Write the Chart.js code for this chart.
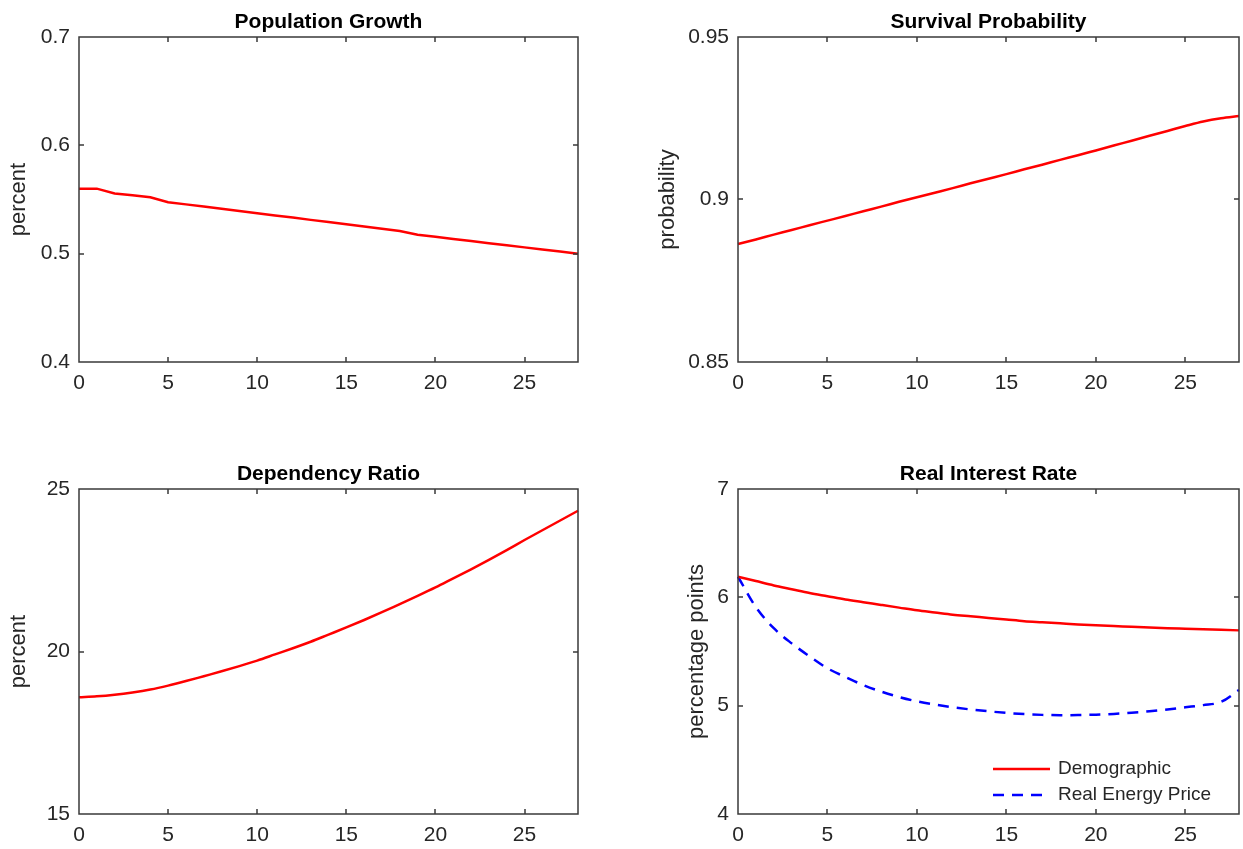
<!DOCTYPE html>
<html>
<head>
<meta charset="utf-8">
<title>Demographic scenario</title>
<script src="https://cdn.jsdelivr.net/npm/chart.js@4.4.1/dist/chart.umd.min.js"></script>
<style>
  html, body { margin: 0; padding: 0; background: #fff; }
  #figure { position: relative; width: 1243px; height: 849px; overflow: hidden; }
  #figure canvas { position: absolute; }
</style>
</head>
<body>
<div id="figure">
  <canvas id="popChart" width="620" height="425" style="left:0;top:0"></canvas>
  <canvas id="survChart" width="623" height="425" style="left:620px;top:0"></canvas>
  <canvas id="depChart" width="620" height="424" style="left:0;top:425px"></canvas>
  <canvas id="rateChart" width="623" height="424" style="left:620px;top:425px"></canvas>
</div>
<script>
// years after the shock
const YEARS = [0, 1, 2, 3, 4, 5, 6, 7, 8, 9, 10, 11, 12, 13, 14, 15, 16, 17, 18, 19, 20, 21, 22, 23, 24, 25, 26, 27, 28];
const X_TICKS = [0, 5, 10, 15, 20, 25];

const POP_GROWTH = [0.560, 0.560, 0.5555, 0.554, 0.552, 0.5475, 0.5455, 0.5435, 0.5414, 0.5394, 0.5373, 0.5353, 0.5333, 0.5312, 0.5292,
  0.5271, 0.5251, 0.5231, 0.5210, 0.5175, 0.5156, 0.5136, 0.5117, 0.5097, 0.5078, 0.5058, 0.5039, 0.5019, 0.5000];
const POP_TICKS = [0.4, 0.5, 0.6, 0.7];

const SURVIVAL = [0.8863, 0.8877, 0.8892, 0.8906, 0.8921, 0.8935, 0.8949, 0.8964, 0.8978, 0.8993, 0.9007, 0.9021, 0.9035, 0.9050, 0.9064,
  0.9078, 0.9093, 0.9107, 0.9122, 0.9136, 0.9151, 0.9166, 0.9181, 0.9196, 0.9211, 0.9226, 0.9240, 0.9250, 0.9257];
const SURV_TICKS = [0.85, 0.9, 0.95];

const DEP_RATIO = [18.59, 18.62, 18.67, 18.74, 18.83, 18.95, 19.09, 19.24, 19.39, 19.55, 19.72, 19.91, 20.10, 20.30, 20.52,
  20.74, 20.97, 21.21, 21.46, 21.71, 21.97, 22.25, 22.53, 22.82, 23.12, 23.43, 23.73, 24.03, 24.33];
const DEP_TICKS = [15, 20, 25];

const RATE_DEMOGRAPHIC = [6.19, 6.15, 6.11, 6.075, 6.04, 6.01, 5.98, 5.955, 5.93, 5.905, 5.88, 5.86, 5.84, 5.825, 5.81,
  5.795, 5.78, 5.77, 5.76, 5.75, 5.742, 5.735, 5.728, 5.721, 5.715, 5.71, 5.705, 5.70, 5.695];
const RATE_ENERGY = [6.19, 5.91, 5.715, 5.575, 5.455, 5.345, 5.265, 5.19, 5.13, 5.08, 5.04, 5.01, 4.985, 4.965, 4.948,
  4.933, 4.922, 4.915, 4.912, 4.913, 4.917, 4.924, 4.934, 4.948, 4.965, 4.985, 5.005, 5.035, 5.145];
const RATE_TICKS = [4, 5, 6, 7];

const AXIS_COLOR = '#262626';
const FONT = '"Liberation Sans", Arial, Helvetica, sans-serif';

Chart.defaults.font.family = FONT;
Chart.defaults.color = AXIS_COLOR;

function points(ys) {
  return YEARS.map(function(x, i) { return { x: x, y: ys[i] }; });
}

// MATLAB-like box with inward ticks, bold title, rotated y label and an in-plot legend
const matlabAxes = {
  id: 'matlabAxes',
  afterDraw: function(chart, args, opts) {
    var ctx = chart.ctx;
    var a = chart.chartArea;
    var xs = chart.scales.x, ys = chart.scales.y;
    var L = Math.round(a.left), R = Math.round(a.right);
    var T = Math.round(a.top), B = Math.round(a.bottom);
    ctx.save();
    ctx.strokeStyle = '#3a3a3a';
    ctx.lineWidth = 1.5;
    ctx.beginPath();
    ctx.rect(L, T, R - L, B - T);
    xs.ticks.forEach(function(t) {
      var px = Math.round(xs.getPixelForValue(t.value));
      ctx.moveTo(px, B); ctx.lineTo(px, B - 5);
      ctx.moveTo(px, T); ctx.lineTo(px, T + 5);
    });
    ys.ticks.forEach(function(t) {
      var py = Math.round(ys.getPixelForValue(t.value));
      ctx.moveTo(L, py); ctx.lineTo(L + 5, py);
      ctx.moveTo(R, py); ctx.lineTo(R - 5, py);
    });
    ctx.stroke();

    ctx.fillStyle = '#000';
    ctx.font = 'bold 21px ' + FONT;
    ctx.textAlign = 'center';
    ctx.textBaseline = 'alphabetic';
    ctx.fillText(opts.title, (a.left + a.right) / 2, a.top - 9);

    ctx.save();
    ctx.fillStyle = AXIS_COLOR;
    ctx.font = '22px ' + FONT;
    ctx.translate(a.left - opts.yLabelGap, (a.top + a.bottom) / 2);
    ctx.rotate(-Math.PI / 2);
    ctx.fillText(opts.yLabel, 0, 0);
    ctx.restore();

    if (opts.legend) {
      ctx.font = '19px ' + FONT;
      ctx.textAlign = 'left';
      ctx.textBaseline = 'middle';
      chart.data.datasets.forEach(function(ds, i) {
        var y = a.bottom - opts.legend.bottom + i * opts.legend.rowHeight;
        var x0 = a.left + opts.legend.left;
        ctx.strokeStyle = ds.borderColor;
        ctx.lineWidth = ds.borderWidth;
        ctx.setLineDash(ds.borderDash || []);
        ctx.beginPath();
        ctx.moveTo(x0, y); ctx.lineTo(x0 + opts.legend.sample, y);
        ctx.stroke();
        ctx.setLineDash([]);
        ctx.fillStyle = AXIS_COLOR;
        ctx.fillText(ds.label, x0 + opts.legend.sample + 8, y);
      });
    }
    ctx.restore();
  }
};

function makePanel(id, cfg) {
  var yTicks = cfg.yTicks;
  return new Chart(document.getElementById(id), {
    type: 'line',
    data: {
      datasets: cfg.series.map(function(s) {
        return {
          label: s.label,
          data: points(s.data),
          borderColor: s.color,
          borderWidth: 2.5,
          borderDash: s.dash || [],
          pointRadius: 0,
          cubicInterpolationMode: cfg.smooth ? 'monotone' : 'default',
          tension: 0,
          fill: false,
          clip: 2
        };
      })
    },
    options: {
      responsive: false,
      animation: false,
      events: [],
      layout: { padding: cfg.padding },
      plugins: {
        legend: { display: false },
        tooltip: { enabled: false },
        matlabAxes: { title: cfg.title, yLabel: cfg.yLabel, yLabelGap: cfg.yLabelGap, legend: cfg.legend || null }
      },
      scales: {
        x: {
          type: 'linear',
          min: 0,
          max: 28,
          grid: { display: false, drawTicks: false },
          border: { display: false },
          ticks: { font: { size: 21 }, padding: 9, maxRotation: 0, callback: function(v) { return String(v); } },
          afterBuildTicks: function(s) { s.ticks = X_TICKS.map(function(v) { return { value: v }; }); },
          afterFit: function(s) { s.height = 30; }
        },
        y: {
          type: 'linear',
          min: yTicks[0],
          max: yTicks[yTicks.length - 1],
          grid: { display: false, drawTicks: false },
          border: { display: false },
          ticks: { font: { size: 21 }, padding: 9, callback: function(v) { return String(v); } },
          afterBuildTicks: function(s) { s.ticks = yTicks.map(function(v) { return { value: v }; }); },
          afterFit: function(s) { s.width = cfg.yWidth; }
        }
      }
    },
    plugins: [matlabAxes]
  });
}

makePanel('popChart', {
  title: 'Population Growth', yLabel: 'percent', yLabelGap: 54,
  yTicks: POP_TICKS, yWidth: 79,
  padding: { left: 0, top: 37, right: 42, bottom: 33 },
  series: [{ label: 'Population Growth', data: POP_GROWTH, color: '#ff0000' }]
});

makePanel('survChart', {
  title: 'Survival Probability', yLabel: 'probability', yLabelGap: 64,
  yTicks: SURV_TICKS, yWidth: 118, smooth: true,
  padding: { left: 0, top: 37, right: 4, bottom: 33 },
  series: [{ label: 'Survival Probability', data: SURVIVAL, color: '#ff0000' }]
});

makePanel('depChart', {
  title: 'Dependency Ratio', yLabel: 'percent', yLabelGap: 54,
  yTicks: DEP_TICKS, yWidth: 79, smooth: true,
  padding: { left: 0, top: 64, right: 42, bottom: 5 },
  series: [{ label: 'Dependency Ratio', data: DEP_RATIO, color: '#ff0000' }]
});

makePanel('rateChart', {
  title: 'Real Interest Rate', yLabel: 'percentage points', yLabelGap: 35,
  yTicks: RATE_TICKS, yWidth: 118, smooth: true,
  padding: { left: 0, top: 64, right: 4, bottom: 5 },
  legend: { left: 255, bottom: 45, rowHeight: 26, sample: 57 },
  series: [
    { label: 'Demographic', data: RATE_DEMOGRAPHIC, color: '#ff0000' },
    { label: 'Real Energy Price', data: RATE_ENERGY, color: '#0000ff', dash: [11, 8] }
  ]
});
</script>
</body>
</html>
